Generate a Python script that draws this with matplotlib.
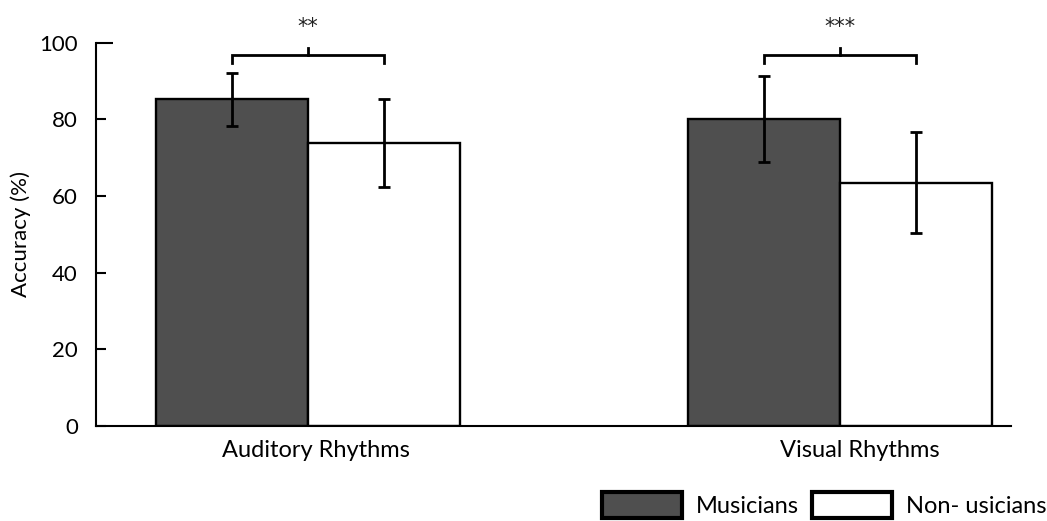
import matplotlib
matplotlib.use('Agg')
import matplotlib.pyplot as plt
from matplotlib.patches import Patch

plt.rcParams['font.family'] = ['Lato', 'DejaVu Sans']

conditions = ['Auditory Rhythms', 'Visual Rhythms']
groups = ['Musicians', 'Non- usicians']
musicians = [85.3, 80.0]
musicians_err = [6.9, 11.2]
non_musicians = [73.8, 63.5]
non_musicians_err = [11.5, 13.2]
stars = ['**', '***']
y_ticks = [0, 20, 40, 60, 80, 100]

dark = '#4f4f4f'
width = 1.0
centers = [0.0, 3.5]
label_shift = [0.05, 0.13]

fig = plt.figure(figsize=(10.47, 5.21), dpi=100)
ax = fig.add_axes([0.0917, 0.1823, 0.874, 0.7357])

x_mus = [c - width / 2 for c in centers]
x_non = [c + width / 2 for c in centers]
err_kw = dict(ecolor='black', elinewidth=2, capsize=4, capthick=2)
ax.bar(x_mus, musicians, width, yerr=musicians_err, color=dark,
       edgecolor='black', linewidth=1.7, error_kw=err_kw, label=groups[0])
ax.bar(x_non, non_musicians, width, yerr=non_musicians_err, color='white',
       edgecolor='black', linewidth=1.7, error_kw=err_kw, label=groups[1])

# significance brackets
for i in range(len(centers)):
    a, b = x_mus[i], x_non[i]
    ax.plot([a, a, b, b], [94.8, 96.8, 96.8, 94.8], color='black', lw=2,
            clip_on=False, solid_joinstyle='miter')
    ax.plot([centers[i], centers[i]], [96.8, 98.6], color='black', lw=2,
            clip_on=False)
    ax.text(centers[i], 104.0, stars[i], ha='center', va='center',
            fontsize=15, family='DejaVu Sans', color='#222222', clip_on=False)

ax.set_xlim(-1.395, 4.625)
ax.set_ylim(0, 100)
ax.set_yticks(y_ticks)
ax.set_yticklabels([str(t) for t in y_ticks], fontsize=16)
ax.tick_params(axis='y', direction='in', length=7, width=1.5, pad=13)
ax.yaxis.get_major_ticks()[-1].tick1line.set_markersize(12)
ax.set_xticks([c + s for c, s in zip(centers, label_shift)])
ax.set_xticklabels(conditions, fontsize=17)
ax.tick_params(axis='x', length=0, pad=10)
ax.set_ylabel('Accuracy (%)', fontsize=16, labelpad=6)

for side in ['top', 'right']:
    ax.spines[side].set_visible(False)
ax.spines['left'].set_linewidth(1.5)
ax.spines['bottom'].set_linewidth(1.5)

handles = [Patch(facecolor=dark, edgecolor='black', linewidth=3),
           Patch(facecolor='white', edgecolor='black', linewidth=3)]
fig.legend(handles, groups, loc='lower right', bbox_to_anchor=(1.009, -0.012),
           ncol=2, frameon=False, fontsize=17, handlelength=3.4,
           handleheight=1.3, handletextpad=0.6, columnspacing=0.55,
           borderaxespad=0.0)

fig.savefig('out.png', dpi=100)
